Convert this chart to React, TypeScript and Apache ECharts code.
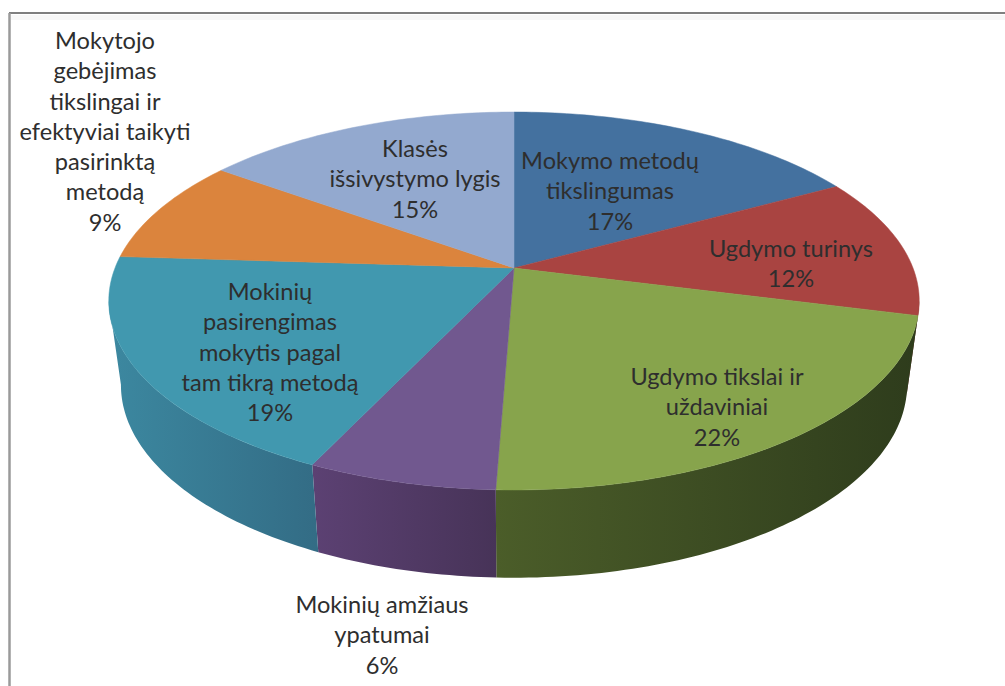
import React, { useEffect, useRef } from "react";
import * as echarts from "echarts";

// ---- data ----
const NAMES = [
  "Mokymo metodų\ntikslingumas",
  "Ugdymo turinys",
  "Ugdymo tikslai ir\nuždaviniai",
  "Mokinių amžiaus\nypatumai",
  "Mokinių\npasirengimas\nmokytis pagal\ntam tikrą metodą",
  "Mokytojo\ngebėjimas\ntikslingai ir\nefektyviai taikyti\npasirinktą\nmetodą",
  "Klasės\nišsivystymo lygis",
];
const VALUES = [17, 12, 21.6, 6.4, 19, 9, 15];

// ---- styling ----
const TOP_COLORS = ["#44719f", "#a94441", "#87a44c", "#71588f", "#4198af", "#db843d", "#93a9cf"];
// wall gradient, left colour then right colour
const WALL_COLORS: [string, string][] = [
  ["#2c4563", "#2c4563"],
  ["#6e2c2a", "#5e2624"],
  ["#4b5d29", "#2e3c1c"],
  ["#5c4173", "#473358"],
  ["#3c88a0", "#336c85"],
  ["#8a5326", "#8a5326"],
  ["#5d6b85", "#5d6b85"],
];
// label centre x and first-line centre y, same order as NAMES
const LABEL_POS = [
  [610, 160],
  [791, 248],
  [717, 376],
  [382, 604],
  [270, 291],
  [105, 40],
  [415, 148],
];
const LABEL_COLOR = "#2e2e2e";
const LINE_H = 30.3;

// ---- perspective pie geometry ----
const CX = 514;
const APEX_Y = 268;
const K = 399;
const A = 136.4;
const C = -0.1746;
const DEG = Math.PI / 180;
// angles (degrees) at which the rim turns from front to back
const VIS_FROM = 100;
const VIS_TO = 260;

function project(deg: number): [number, number] {
  const u = Math.sin(deg * DEG);
  const v = -Math.cos(deg * DEG);
  const d = 1 + C * v;
  return [CX + (K * u) / d, (A * v + APEX_Y) / d];
}
function projectBottom(deg: number): [number, number] {
  const [x, y] = project(deg);
  return [CX + (x - CX) * 0.97, y + 84 + (y - 300.8) * 0.02];
}
function arc(fn: (d: number) => [number, number], a: number, b: number) {
  const out: [number, number][] = [];
  const n = Math.max(2, Math.ceil(Math.abs(b - a)));
  for (let i = 0; i <= n; i++) out.push(fn(a + ((b - a) * i) / n));
  return out;
}

const TOTAL = VALUES.reduce((s, v) => s + v, 0);

function renderItem(params: any, api: any) {
  const i = params.dataIndex;
  const start = (VALUES.slice(0, i).reduce((s, v) => s + v, 0) / TOTAL) * 360;
  const end = start + (api.value(0) / TOTAL) * 360;
  const children: any[] = [];

  const wa = Math.max(start, VIS_FROM);
  const wb = Math.min(end, VIS_TO);
  if (wb > wa) {
    const pts = [...arc(project, wa, wb), ...arc(projectBottom, wb, wa)];
    const [c0, c1] = WALL_COLORS[i];
    children.push({
      type: "polygon",
      z2: 1,
      shape: { points: pts },
      style: {
        fill: new echarts.graphic.LinearGradient(0, 0, 1, 0, [
          { offset: 0, color: c0 },
          { offset: 1, color: c1 },
        ]),
      },
    });
  }

  children.push({
    type: "polygon",
    z2: 2,
    shape: { points: [[CX, APEX_Y], ...arc(project, start, end)] },
    style: { fill: TOP_COLORS[i], stroke: TOP_COLORS[i], lineWidth: 0.5 },
  });

  return { type: "group", children };
}

function renderLabel(params: any, api: any) {
  const i = params.dataIndex;
  const [x, y] = LABEL_POS[i];
  return {
    type: "text",
    z2: 10,
    x,
    y: y - LINE_H / 2,
    style: {
      text: `${NAMES[i]}\n${Math.round(api.value(0))}%`,
      fill: LABEL_COLOR,
      font: '23.6px Lato, "Open Sans", sans-serif',
      lineHeight: LINE_H,
      align: "center",
      verticalAlign: "top",
    },
  };
}

export default function App() {
  const ref = useRef<HTMLDivElement>(null);
  useEffect(() => {
    const chart = echarts.init(ref.current!, undefined, { renderer: "svg" });
    const seriesData = VALUES.map((v) => [v]);
    chart.setOption({
      animation: false,
      backgroundColor: "#ffffff",
      graphic: [
        { type: "rect", z: 0, shape: { x: 11, y: 15, width: 994, height: 5 }, style: { fill: "#f7f7f7" } },
        { type: "line", z: 1, shape: { x1: 9, y1: 13, x2: 1005, y2: 13 }, style: { stroke: "#7f7f7f", lineWidth: 2 } },
        { type: "line", z: 1, shape: { x1: 9.5, y1: 13, x2: 9.5, y2: 686 }, style: { stroke: "#9a9a9a", lineWidth: 2.5 } },
      ],
      series: [
        { type: "custom", coordinateSystem: "none", renderItem, data: seriesData, z: 2, silent: true },
        { type: "custom", coordinateSystem: "none", renderItem: renderLabel, data: seriesData, z: 3, silent: true },
      ],
    });
    return () => chart.dispose();
  }, []);
  return <div ref={ref} style={{ position: "absolute", left: 0, top: 0, width: 1005, height: 686 }} />;
}
